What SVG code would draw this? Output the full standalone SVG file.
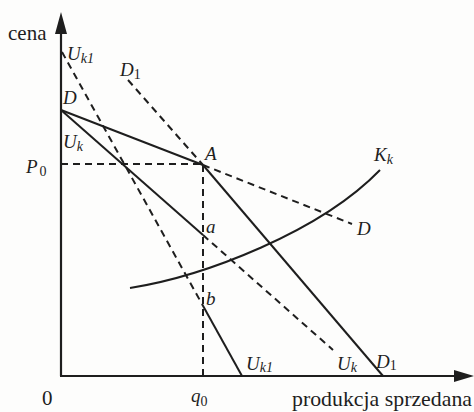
<svg xmlns="http://www.w3.org/2000/svg" width="474" height="412" viewBox="0 0 474 412">
<style>
.ax{stroke:#1e1e1e;stroke-width:2.2;fill:none}
.s{stroke:#1e1e1e;stroke-width:2;fill:none}
.d{stroke:#1e1e1e;stroke-width:2;fill:none;stroke-dasharray:7 5}
text{fill:#1e1e1e;font-family:'Liberation Serif',serif}
.i{font-style:italic;font-size:19px}
.sub{font-size:14px}
</style>
<rect width="474" height="412" fill="#fdfdfc"/>
<g id="axes">
<line class="ax" x1="61" y1="376" x2="61" y2="30"/>
<line class="ax" x1="60" y1="376" x2="456" y2="376"/>
<polygon points="61,12 55,34 67,34" fill="#1e1e1e"/>
<polygon points="474,376 454,370 454,382" fill="#1e1e1e"/>
</g>
<g id="connectors">
<line class="s" x1="61" y1="110" x2="203" y2="165"/>
<line class="d" x1="203" y1="165" x2="352" y2="224"/>
<line class="d" x1="128" y1="80" x2="203" y2="165"/>
<line class="s" x1="203" y1="165" x2="383" y2="376"/>
<line class="s" x1="61" y1="110" x2="203" y2="235"/>
<line class="d" x1="203" y1="235" x2="333" y2="350"/>
<line class="d" x1="62" y1="52" x2="202" y2="304"/>
<line class="s" x1="202" y1="304" x2="242" y2="376"/>
<line class="d" x1="61" y1="164" x2="203" y2="164"/>
<line class="d" x1="203" y1="165" x2="203" y2="376"/>
<path class="s" d="M130,288 C205,276 320,232 380,170"/>
</g>
<g id="labels">
<text x="8" y="40" font-size="21">cena</text>
<text class="i" x="67" y="60">U<tspan class="sub" dy="3">k1</tspan></text>
<text class="i" x="120" y="76">D<tspan class="sub" dy="3" font-style="normal">1</tspan></text>
<text class="i" x="63" y="104">D</text>
<text class="i" x="63" y="148">U<tspan class="sub" dy="3">k</tspan></text>
<text class="i" x="26" y="173">P<tspan class="sub" dx="2" dy="3" font-style="normal">0</tspan></text>
<text class="i" x="205" y="160">A</text>
<text class="i" x="374" y="161">K<tspan class="sub" dy="3">k</tspan></text>
<text class="i" x="357" y="235">D</text>
<text class="i" x="206" y="233">a</text>
<text class="i" x="206" y="305">b</text>
<text class="i" x="246" y="370">U<tspan class="sub" dy="2">k1</tspan></text>
<text class="i" x="337" y="370">U<tspan class="sub" dy="2">k</tspan></text>
<text class="i" x="376" y="368">D<tspan class="sub" dy="2" font-style="normal">1</tspan></text>
<text x="42" y="405" font-size="21">0</text>
<text class="i" x="191" y="402">q<tspan class="sub" dy="4" font-style="normal">0</tspan></text>
<text x="292" y="406" font-size="22" textLength="180" lengthAdjust="spacingAndGlyphs">produkcja sprzedana</text>
</g>
</svg>
